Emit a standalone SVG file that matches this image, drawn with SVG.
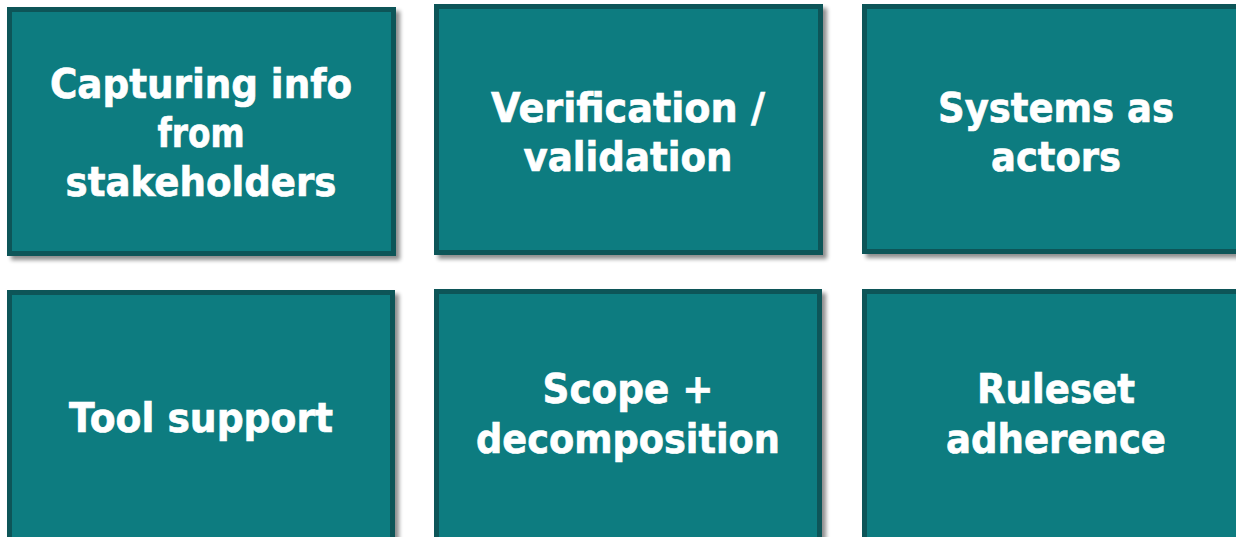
<svg xmlns="http://www.w3.org/2000/svg" width="1236" height="537" viewBox="0 0 1236 537">
  <defs>
    <filter id="shadow" x="-5%" y="-5%" width="115%" height="115%">
      <feGaussianBlur in="SourceAlpha" stdDeviation="2.2"/>
      <feOffset dx="4" dy="4" result="b"/>
      <feComponentTransfer><feFuncA type="linear" slope="0.45"/></feComponentTransfer>
      <feMerge><feMergeNode/><feMergeNode in="SourceGraphic"/></feMerge>
    </filter>
  </defs>
  <style>
    .box { fill: #0f7b80; stroke: #0d5558; stroke-width: 5; filter: url(#shadow); }
    .lbl { font-family: "DejaVu Sans", Verdana, sans-serif; font-weight: bold; font-size: 41.5px; fill: #ffffff; stroke: #ffffff; stroke-width: 0.7; text-anchor: middle; }
  </style>
  <rect width="1236" height="537" fill="#ffffff"/>
  <g id="node-capturing">
    <rect class="box" x="9.5" y="9.5" width="384" height="244"/>
    <text class="lbl" x="201" y="98" textLength="302" lengthAdjust="spacingAndGlyphs">Capturing info</text>
    <text class="lbl" x="201" y="147" textLength="87" lengthAdjust="spacingAndGlyphs">from</text>
    <text class="lbl" x="201" y="196" textLength="271" lengthAdjust="spacingAndGlyphs">stakeholders</text>
  </g>
  <g id="node-verification">
    <rect class="box" x="436.5" y="6.5" width="384" height="246"/>
    <text class="lbl" x="628" y="122" textLength="274" lengthAdjust="spacingAndGlyphs">Verification /</text>
    <text class="lbl" x="628" y="171" textLength="209" lengthAdjust="spacingAndGlyphs">validation</text>
  </g>
  <g id="node-systems">
    <rect class="box" x="864.5" y="6.5" width="384" height="245"/>
    <text class="lbl" x="1056" y="122" textLength="236" lengthAdjust="spacingAndGlyphs">Systems as</text>
    <text class="lbl" x="1056" y="171" textLength="130" lengthAdjust="spacingAndGlyphs">actors</text>
  </g>
  <g id="node-tool">
    <rect class="box" x="9.5" y="292.5" width="383" height="250"/>
    <text class="lbl" x="201" y="432" textLength="264" lengthAdjust="spacingAndGlyphs">Tool support</text>
  </g>
  <g id="node-scope">
    <rect class="box" x="436.5" y="291.5" width="383" height="250"/>
    <text class="lbl" x="628" y="403" textLength="171" lengthAdjust="spacingAndGlyphs">Scope +</text>
    <text class="lbl" x="628" y="453" textLength="304" lengthAdjust="spacingAndGlyphs">decomposition</text>
  </g>
  <g id="node-ruleset">
    <rect class="box" x="864.5" y="291.5" width="384" height="250"/>
    <text class="lbl" x="1056" y="403" textLength="158" lengthAdjust="spacingAndGlyphs">Ruleset</text>
    <text class="lbl" x="1056" y="453" textLength="220" lengthAdjust="spacingAndGlyphs">adherence</text>
  </g>
  <g id="connectors"/>
</svg>
